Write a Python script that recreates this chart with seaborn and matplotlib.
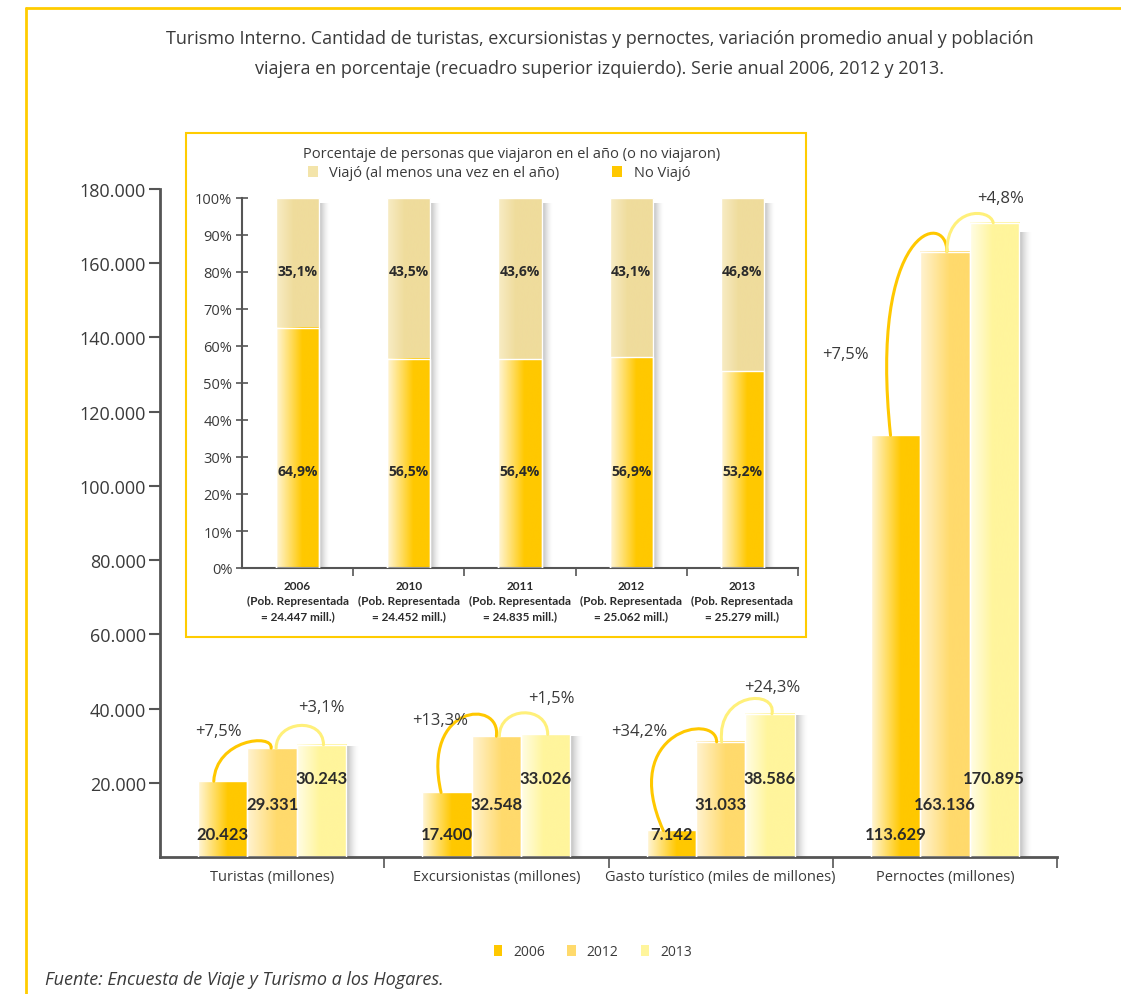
import numpy as np
import pandas as pd
import matplotlib
matplotlib.use('Agg')
import matplotlib.pyplot as plt
import seaborn as sns
from matplotlib.patches import Rectangle, PathPatch, Patch
from matplotlib.path import Path
from matplotlib.lines import Line2D
from matplotlib.colors import LinearSegmentedColormap

sns.set_theme(style='white')
plt.rcParams['font.family'] = ['Open Sans', 'DejaVu Sans']
NARROW = ['Liberation Sans Narrow', 'Lato', 'DejaVu Sans']

# Datos principales
categorias = ['Turistas (millones)', 'Excursionistas (millones)',
              'Gasto turístico (miles de millones)', 'Pernoctes (millones)']
anios = ['2006', '2012', '2013']
v2006 = [20423, 17400, 7142, 113629]
v2012 = [29331, 32548, 31033, 163136]
v2013 = [30243, 33026, 38586, 170895]
var_06_12 = ['+7,5%', '+13,3%', '+34,2%', '+7,5%']
var_12_13 = ['+3,1%', '+1,5%', '+24,3%', '+4,8%']

# Datos del recuadro
ins_anios = ['2006', '2010', '2011', '2012', '2013']
ins_pob = ['24.447', '24.452', '24.835', '25.062', '25.279']
no_viajo = [64.9, 56.5, 56.4, 56.9, 53.2]
viajo = [35.1, 43.5, 43.6, 43.1, 46.8]

W, H = 1121, 995
GRIS = '#555555'
TXT = '#3a3a3a'

cmaps = {
    '2006': LinearSegmentedColormap.from_list('a', [(0, '#FFF6DA'), (0.6, '#FFC800'), (1, '#FFC800')]),
    '2012': LinearSegmentedColormap.from_list('b', [(0, '#FFF3D2'), (0.6, '#FFDA6C'), (1, '#FFDA6C')]),
    '2013': LinearSegmentedColormap.from_list('c', [(0, '#FFFDE6'), (0.45, '#FFF59C'), (1, '#FFF59C')]),
}
cmap_viajo = LinearSegmentedColormap.from_list('v', [(0, '#F8EDC6'), (0.4, '#EFDC9C'), (1, '#EFDC9C')])
grad = np.linspace(0, 1, 256).reshape(1, -1)
sombra = np.zeros((1, 64, 4))
sombra[..., :3] = 0.45
sombra[..., 3] = np.linspace(0.65, 0, 64) ** 1.6


def px_to_dx(ax, px):
    x0, x1 = ax.get_xlim()
    return px / ax.get_window_extent().width * (x1 - x0)


def pintar(ax, p, cmap, sw):
    x0, w, y0, h = p.get_x(), p.get_width(), p.get_y(), p.get_height()
    ax.imshow(grad, cmap=cmap, extent=(x0, x0 + w, y0, y0 + h), aspect='auto',
              zorder=2, interpolation='bicubic')
    if sw > 0:
        ax.imshow(sombra, extent=(x0 + w, x0 + w + sw, y0, y0 + h * 0.985), aspect='auto',
                  zorder=1.5, interpolation='bicubic')
    p.set_facecolor('none')
    p.set_edgecolor('white')
    p.set_linewidth(1)
    p.set_zorder(3)


fig = plt.figure(figsize=(W / 100, H / 100), dpi=100)

# ---- grafico principal ----
ax = fig.add_axes([160 / W, 1 - 858 / H, 897 / W, 668 / H])
df = pd.DataFrame({'cat': categorias * 3,
                   'anio': np.repeat(anios, len(categorias)),
                   'valor': v2006 + v2012 + v2013})
sns.barplot(data=df, x='cat', y='valor', hue='anio', width=0.66, dodge=True,
            errorbar=None, legend=False, saturation=1,
            palette=['#FFC800', '#FFDA6C', '#FFF59C'], ax=ax)
ax.set_xlim(-0.5, 3.5)
ax.set_ylim(0, 180000)
sw = px_to_dx(ax, 13)

barras = sorted(ax.patches, key=lambda p: p.get_x())
centros = {}
for i, p in enumerate(barras):
    anio = anios[i % 3]
    pintar(ax, p, cmaps[anio], sw)
    centros[(i // 3, anio)] = (p.get_x() + p.get_width() / 2, p.get_height())

ax.set_xlim(-0.5, 3.5)
ax.set_ylim(0, 180000)
sns.despine(ax=ax)
for s in ['left', 'bottom']:
    ax.spines[s].set_color(GRIS)
    ax.spines[s].set_linewidth(2)
ax.set_yticks(np.arange(20000, 180001, 20000))
ax.set_yticklabels([f'{v:,}'.replace(',', '.') for v in range(20000, 180001, 20000)])
ax.tick_params(axis='y', direction='out', length=8, width=1.5, color=GRIS,
               labelsize=13, labelcolor=TXT, pad=2, left=True)
ax.set_xticks(range(len(categorias)))
ax.set_xticklabels(categorias)
ax.set_xticks([0.5, 1.5, 2.5, 3.5], minor=True)
ax.tick_params(axis='x', which='major', length=0, labelsize=10.5, labelcolor=TXT, pad=9)
ax.tick_params(axis='x', which='minor', direction='out', length=8, width=1.2,
               color=GRIS, bottom=True)
ax.set_xlabel('')
ax.set_ylabel('')

# etiquetas de valores dentro de las barras
alto_etiqueta = {'2006': 23, '2012': 53, '2013': 79}
for (c, anio), (xc, v) in centros.items():
    ax.annotate(f'{int(v):,}'.replace(',', '.'), xy=(xc, 0),
                xytext=(0, alto_etiqueta[anio]), textcoords='offset pixels',
                ha='center', va='center', fontsize=12, fontweight='bold',
                color='#2b2b2b', family=NARROW, zorder=5)

# arcos de variacion
arcoA = [(-9, -1, (2, 42), (2, 15)), (-6, 0, (-20, 88), (5, 38)),
         (-8, -4, (-45, 100), (0, 30)), (-5, 2, (-22, 208), (0, 42))]
arcoB = [(4, 2, (0, 28), (0, 28)), (3, 2, (0, 30), (0, 30)),
         (1, 2, (-5, 50), (5, 25)), (2, -1, (0, 45), (-3, 15))]
labA = [(-4, 50), (-7, 72), (-32, 99), (-50, 81)]
labB = [(0, 38), (6, 36), (2, 27), (6, 25)]


def arco(ax, a, b, spec, color):
    dx0, dx1, c1, c2 = spec
    p0 = ax.transData.transform(a) + np.array([dx0, 0])
    p3 = ax.transData.transform(b) + np.array([dx1, 0])
    p1 = p0 + np.array(c1)
    p2 = p3 + np.array(c2)
    pts = ax.transData.inverted().transform(np.array([p0, p1, p2, p3]))
    path = Path(pts, [Path.MOVETO, Path.CURVE4, Path.CURVE4, Path.CURVE4])
    ax.add_patch(PathPatch(path, facecolor='none', edgecolor=color, lw=2.2,
                           zorder=4, capstyle='round'))


for c in range(len(categorias)):
    a = centros[(c, '2006')]
    b = centros[(c, '2012')]
    d = centros[(c, '2013')]
    arco(ax, a, b, arcoA[c], '#FFC800')
    arco(ax, b, d, arcoB[c], '#FFF07A')
    ax.annotate(var_06_12[c], xy=a, xytext=labA[c], textcoords='offset pixels',
                ha='center', va='center', fontsize=12, color=TXT, zorder=5)
    ax.annotate(var_12_13[c], xy=d, xytext=labB[c], textcoords='offset pixels',
                ha='center', va='center', fontsize=12, color=TXT, zorder=5)

# ---- recuadro ----
caja = Rectangle((186 / W, 1 - 638 / H), 620 / W, 504 / H, transform=fig.transFigure,
                 facecolor='white', edgecolor='#FFCC00', lw=1.5, zorder=2)
fig.add_artist(caja)

ins = fig.add_axes([242 / W, 1 - 569 / H, 556 / W, 370 / H])
ins.set_zorder(3)
ins.patch.set_alpha(0)
total = [n + v for n, v in zip(no_viajo, viajo)]
sns.barplot(x=ins_anios, y=total, color='#EFDC9C', width=0.39, errorbar=None,
            saturation=1, ax=ins)
sns.barplot(x=ins_anios, y=no_viajo, color='#FFC800', width=0.39, errorbar=None,
            saturation=1, ax=ins)
ins.set_xlim(-0.5, 4.5)
ins.set_ylim(0, 100)
sw2 = px_to_dx(ins, 11)
n = len(ins_anios)
for i, p in enumerate(ins.patches):
    pintar(ins, p, cmap_viajo if i < n else cmaps['2006'], sw2 if i < n else 0)
ins.set_xlim(-0.5, 4.5)
ins.set_ylim(0, 100)

for i in range(n):
    ins.text(i, 80.3, f'{viajo[i]:.1f}%'.replace('.', ','), ha='center', va='center',
             fontsize=10, fontweight='bold', color='#2b2b2b', zorder=5)
    ins.text(i, 26.2, f'{no_viajo[i]:.1f}%'.replace('.', ','), ha='center', va='center',
             fontsize=10, fontweight='bold', color='#2b2b2b', zorder=5)

sns.despine(ax=ins)
for s in ['left', 'bottom']:
    ins.spines[s].set_color(GRIS)
    ins.spines[s].set_linewidth(1.5)
ins.set_yticks(np.arange(0, 101, 10))
ins.set_yticklabels([f'{v}%' for v in range(0, 101, 10)])
ins.tick_params(axis='y', direction='inout', length=8, width=1.2, color=GRIS,
                labelsize=10.5, labelcolor=TXT, pad=3, left=True)
ins.set_xticks(range(n))
ins.set_xticklabels([f'{a}\n(Pob. Representada\n= {p} mill.)' for a, p in zip(ins_anios, ins_pob)],
                    fontweight='bold', fontsize=8.5, family=NARROW, linespacing=1.4)
ins.set_xticks([0.5, 1.5, 2.5, 3.5, 4.5], minor=True)
ins.tick_params(axis='x', which='major', length=0, labelcolor='#2b2b2b', pad=9)
ins.tick_params(axis='x', which='minor', direction='out', length=6, width=1.2,
                color=GRIS, bottom=True)

fig.text(512 / W, 1 - 155 / H, 'Porcentaje de personas que viajaron en el año (o no viajaron)',
         ha='center', va='center', fontsize=10.5, color=TXT, zorder=4)
ley_ins = [Patch(facecolor='#F3E4AA', edgecolor='none', label='Viajó (al menos una vez en el año)'),
           Patch(facecolor='#FFC800', edgecolor='none', label='No Viajó')]
lg = fig.legend(handles=ley_ins, loc='center', bbox_to_anchor=(499 / W, 1 - 174 / H), ncol=2,
                frameon=False, fontsize=10.5, handlelength=0.7, handleheight=0.8,
                columnspacing=3.6, handletextpad=0.8, labelcolor=TXT)
lg.set_zorder(4)

# ---- textos y marco ----
fig.text(600 / W, 1 - 39 / H,
         'Turismo Interno. Cantidad de turistas, excursionistas y pernoctes, variación promedio anual y población',
         ha='center', va='center', fontsize=13, color=TXT)
fig.text(600 / W, 1 - 69 / H,
         'viajera en porcentaje (recuadro superior izquierdo). Serie anual 2006, 2012 y 2013.',
         ha='center', va='center', fontsize=13, color=TXT)

ley = [Patch(facecolor=c, edgecolor='none', label=a)
       for a, c in zip(anios, ['#FFC800', '#FFDA6C', '#FFF59C'])]
fig.legend(handles=ley, loc='center', bbox_to_anchor=(593 / W, 1 - 953 / H), ncol=3,
           frameon=False, fontsize=10, handlelength=0.6, handleheight=0.9,
           columnspacing=1.6, handletextpad=0.8, labelcolor=TXT)

fig.text(45 / W, 1 - 980 / H, 'Fuente: Encuesta de Viaje y Turismo a los Hogares.',
         ha='left', va='center', fontsize=13, style='italic', color=TXT)

fig.add_artist(Line2D([26 / W, 26 / W], [0, 1 - 9 / H], transform=fig.transFigure,
                      color='#FFCC00', lw=2))
fig.add_artist(Line2D([26 / W, 1], [1 - 9 / H, 1 - 9 / H], transform=fig.transFigure,
                      color='#FFCC00', lw=2))

fig.savefig('out.png', dpi=100)
